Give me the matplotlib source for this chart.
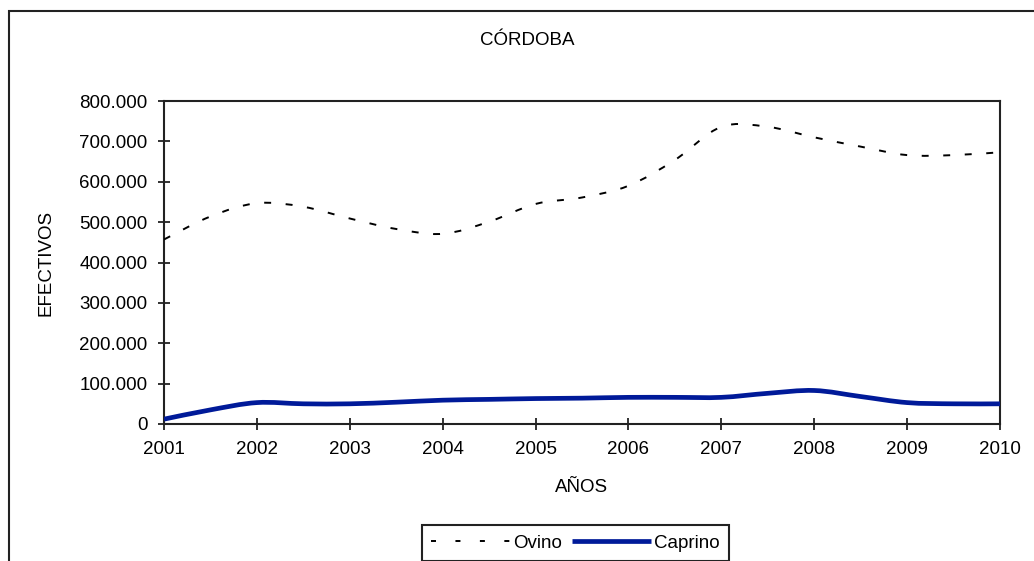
import numpy as np
import matplotlib
matplotlib.use("Agg")
import matplotlib.pyplot as plt
from matplotlib.path import Path
from matplotlib.patches import PathPatch, Rectangle
from matplotlib.lines import Line2D
from matplotlib.ticker import FuncFormatter

# ---- data ----
periodos = [2001.0, 2001.5, 2002.0, 2002.5, 2003.0, 2003.5, 2004.0, 2004.5,
            2005.0, 2005.5, 2006.0, 2006.5, 2007.0, 2007.5, 2008.0, 2008.5,
            2009.0, 2009.5, 2010.0]
ovino = [457000, 514000, 547000, 538000, 509000, 483000, 471000, 501000,
         545000, 561000, 590000, 654000, 736000, 736000, 710000, 687000,
         666000, 666000, 673000]
caprino = [12000, 35000, 53000, 50000, 50000, 54000, 59000, 61000,
           63000, 64000, 66000, 66000, 66000, 76000, 83000, 68000,
           53000, 50000, 50000]
anios = [2001, 2002, 2003, 2004, 2005, 2006, 2007, 2008, 2009, 2010]
yticks = [0, 100000, 200000, 300000, 400000, 500000, 600000, 700000, 800000]

titulo = "CÓRDOBA"
xlab = "AÑOS"
ylab = "EFECTIVOS"
series_names = ["Ovino", "Caprino"]

plt.rcParams["font.family"] = ["Liberation Sans", "DejaVu Sans"]
plt.rcParams["lines.scale_dashes"] = False
FS = 13.5

W, H = 1034, 561
fig = plt.figure(figsize=(W / 100, H / 100), dpi=100)
fig.patch.set_facecolor("white")

# outer chart frame (cut at right and bottom in the reference)
fig.patches.append(Rectangle((9 / W, -0.2), 1.2, 1 - 11 / H + 0.2,
                             transform=fig.transFigure, fill=False,
                             edgecolor="#222222", lw=1.5, clip_on=False))

ax = fig.add_axes([164 / W, 1 - 424 / H, (1000 - 164) / W, (424 - 101) / H])


def smooth_path(x, y):
    """Excel-like smoothed line (Catmull-Rom Bezier segments) through the data."""
    pts = np.column_stack([x, y]).astype(float)
    n = len(pts)
    verts = [pts[0]]
    codes = [Path.MOVETO]
    for i in range(n - 1):
        p0 = pts[i - 1] if i > 0 else pts[i]
        p1 = pts[i]
        p2 = pts[i + 1]
        p3 = pts[i + 2] if i + 2 < n else pts[i + 1]
        c1 = p1 + (p2 - p0) / 6.0
        c2 = p2 - (p3 - p1) / 6.0
        verts += [c1, c2, p2]
        codes += [Path.CURVE4] * 3
    return Path(verts, codes)


ovino_color = "black"
caprino_color = "#001A99"
ovino_dash = (0, (5.0, 10.5))

ax.add_patch(PathPatch(smooth_path(periodos, ovino), fill=False,
                       edgecolor=ovino_color, lw=1.4, linestyle=ovino_dash,
                       capstyle="butt", zorder=3))
ax.add_patch(PathPatch(smooth_path(periodos, caprino), fill=False,
                       edgecolor=caprino_color, lw=3.4, joinstyle="round",
                       capstyle="butt", zorder=3))

ax.set_xlim(2001, 2010)
ax.set_ylim(0, 800000)
ax.set_xticks(anios)
ax.set_xticklabels([str(a) for a in anios])
ax.set_yticks(yticks)
ax.yaxis.set_major_formatter(FuncFormatter(lambda v, p: f"{int(v):,}".replace(",", ".")))

for s in ax.spines.values():
    s.set_linewidth(1.5)
    s.set_color("#222222")

ax.tick_params(axis="both", direction="inout", length=8.5, width=1.3,
               color="#222222", labelsize=FS, pad=7.7, labelcolor="black")
ax.tick_params(axis="x", top=False)
ax.tick_params(axis="y", right=False)

ax.set_xlabel(xlab, fontsize=FS)
ax.xaxis.label.set_va("baseline")
ax.xaxis.set_label_coords(0.5, (424 - 492) / 323)

ax.set_ylabel(ylab, fontsize=FS)
ax.yaxis.label.set_va("center")
ax.yaxis.set_label_coords((46 - 164) / 836, 0.5)

fig.text(527 / W, 1 - 44.7 / H, titulo, fontsize=FS, ha="center", va="baseline")

handles = [Line2D([], [], color=ovino_color, lw=1.4, linestyle=(0, (3.6, 14.0))),
           Line2D([], [], color=caprino_color, lw=3.4, solid_capstyle="butt")]
leg = fig.legend(handles, series_names, loc="upper left",
                 bbox_to_anchor=(422 / W, 1 - 525 / H), bbox_transform=fig.transFigure,
                 ncol=2, fontsize=FS, frameon=True, fancybox=False, shadow=False,
                 framealpha=1, edgecolor="#222222", handlelength=4.2,
                 handletextpad=0.18, columnspacing=0.5, borderpad=0.5,
                 borderaxespad=0)
leg.get_frame().set_linewidth(1.5)

fig.savefig("out.png", dpi=100, facecolor="white")
